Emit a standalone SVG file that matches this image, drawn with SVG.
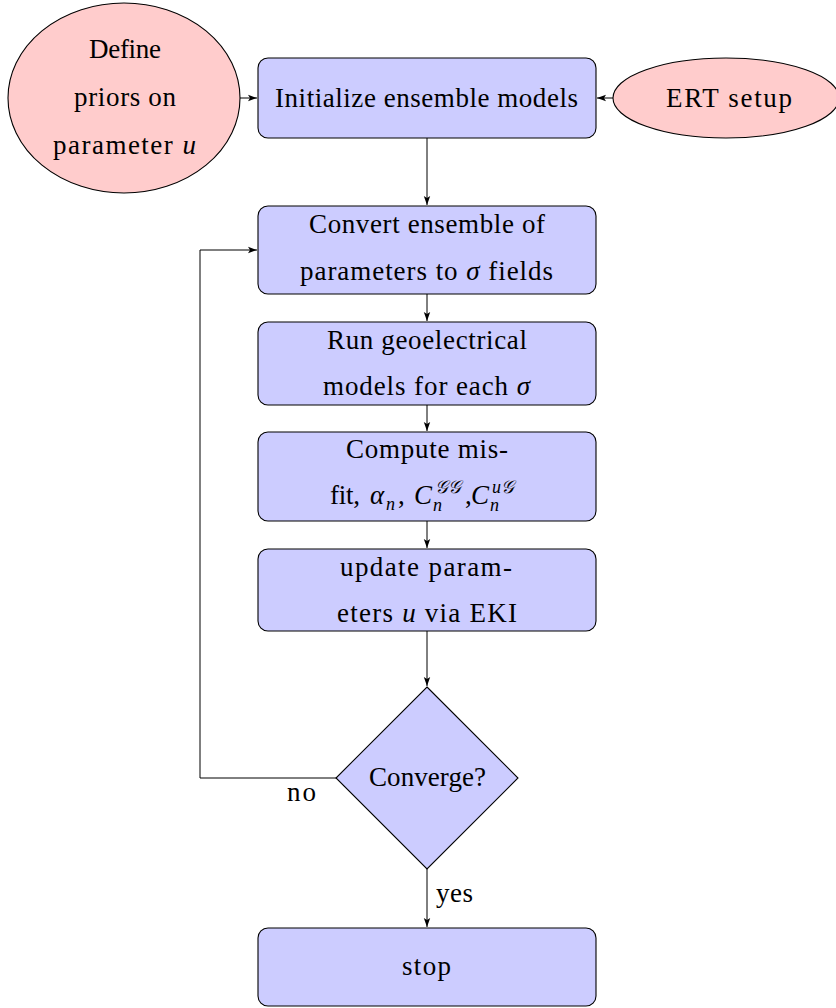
<svg xmlns="http://www.w3.org/2000/svg" width="836" height="1008" viewBox="0 0 836 1008">
  <style>
    .box { fill: #ccccff; stroke: #000; stroke-width: 1.1; }
    .oval { fill: #ffcccc; stroke: #000; stroke-width: 1.1; }
    .t { font-family: "Liberation Serif", "DejaVu Serif", serif; font-size: 27px; fill: #000; text-anchor: middle; }
    .l { text-anchor: start; }
    .m { font-style: italic; }
    .s { font-size: 18px; }
    .edge { fill: none; stroke: #000; stroke-width: 1; }
  </style>
  <defs>
    <marker id="arr" markerWidth="10" markerHeight="8" refX="9" refY="4" orient="auto" markerUnits="userSpaceOnUse">
      <path d="M0,0.8 L9,4 L0,7.2 L2,4 Z" fill="#000"/>
    </marker>
  </defs>

  <g id="connectors">
    <line class="edge" x1="240" y1="98" x2="257" y2="98" marker-end="url(#arr)"/>
    <line class="edge" x1="613" y1="98" x2="597" y2="98" marker-end="url(#arr)"/>
    <line class="edge" x1="427" y1="138" x2="427" y2="205" marker-end="url(#arr)"/>
    <line class="edge" x1="427" y1="294" x2="427" y2="321" marker-end="url(#arr)"/>
    <line class="edge" x1="427" y1="405" x2="427" y2="431" marker-end="url(#arr)"/>
    <line class="edge" x1="427" y1="521" x2="427" y2="548" marker-end="url(#arr)"/>
    <line class="edge" x1="427" y1="631" x2="427" y2="686" marker-end="url(#arr)"/>
    <polyline class="edge" points="336,778 200,778 200,250 257,250" marker-end="url(#arr)"/>
    <line class="edge" x1="427" y1="869" x2="427" y2="927" marker-end="url(#arr)"/>
    <text class="t" x="301.5" y="801" textLength="29">no</text>
    <text class="t" x="454.5" y="902" textLength="37">yes</text>
  </g>

  <g id="priors">
    <ellipse class="oval" cx="124" cy="98" rx="116" ry="95"/>
    <text class="t" x="125" y="58" textLength="72">Define</text>
    <text class="t" x="125" y="106" textLength="102">priors on</text>
    <text class="t" x="124.5" y="154" textLength="143">parameter <tspan class="m">u</tspan></text>
  </g>

  <g id="ert">
    <ellipse class="oval" cx="726" cy="98" rx="113" ry="40"/>
    <text class="t" x="729" y="107" textLength="126">ERT setup</text>
  </g>

  <g id="init">
    <rect class="box" x="258" y="58" width="338" height="80" rx="10"/>
    <text class="t" x="426.5" y="107" textLength="303">Initialize ensemble models</text>
  </g>

  <g id="convert">
    <rect class="box" x="258" y="206" width="338" height="88" rx="10"/>
    <text class="t" x="427" y="233" textLength="236">Convert ensemble of</text>
    <text class="t" x="426.5" y="280" textLength="253">parameters to <tspan class="m">σ</tspan> fields</text>
  </g>

  <g id="run">
    <rect class="box" x="258" y="322" width="338" height="83" rx="10"/>
    <text class="t" x="427" y="349" textLength="200">Run geoelectrical</text>
    <text class="t" x="426.5" y="395" textLength="207">models for each <tspan class="m">σ</tspan></text>
  </g>

  <g id="misfit">
    <rect class="box" x="258" y="432" width="338" height="89" rx="10"/>
    <text class="t" x="427" y="458" textLength="162">Compute mis-</text>
    <text class="t l" y="504"><tspan x="330" textLength="30">fit,</tspan><tspan class="m" x="370">α</tspan><tspan class="m s" x="386" y="510">n</tspan><tspan x="398" y="504">,</tspan><tspan class="m" x="414">C</tspan><tspan class="m s" x="435" y="493">𝒢𝒢</tspan><tspan class="m s" x="433" y="511">n</tspan><tspan x="465" y="504">,</tspan><tspan class="m" x="471">C</tspan><tspan class="m s" x="492" y="493">u𝒢</tspan><tspan class="m s" x="490" y="511">n</tspan></text>
  </g>

  <g id="update">
    <rect class="box" x="258" y="549" width="338" height="82" rx="10"/>
    <text class="t" x="426" y="576" textLength="172">update param-</text>
    <text class="t" x="427" y="622" textLength="180">eters <tspan class="m">u</tspan> via EKI</text>
  </g>

  <g id="converge">
    <polygon class="box" points="427,687 518,778 427,869 336,778"/>
    <text class="t" x="427.5" y="786" textLength="117">Converge?</text>
  </g>

  <g id="stop">
    <rect class="box" x="258" y="928" width="338" height="78" rx="10"/>
    <text class="t" x="426.5" y="975" textLength="49">stop</text>
  </g>
</svg>
